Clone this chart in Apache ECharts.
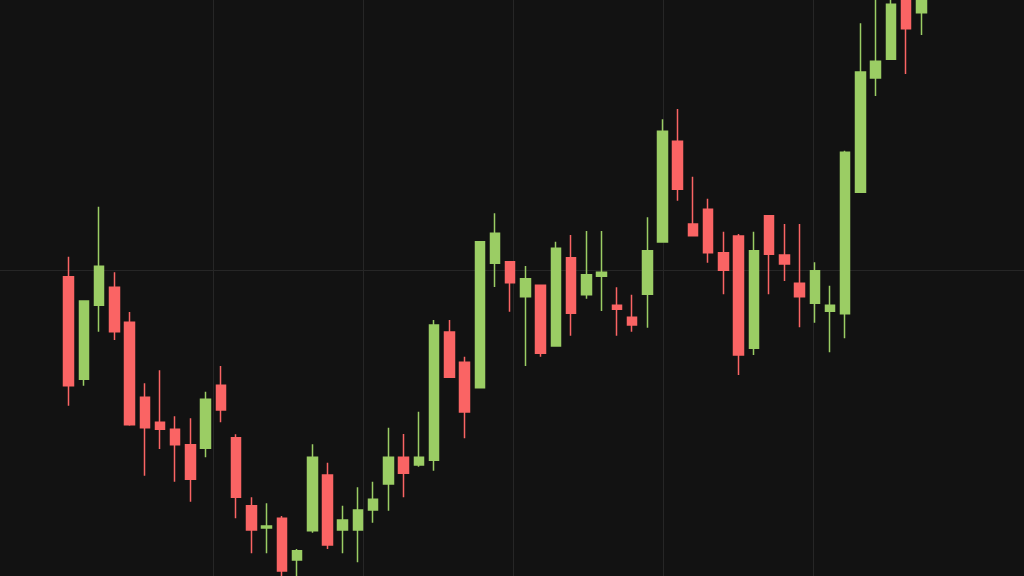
<!DOCTYPE html>
<html>
<head>
<meta charset="utf-8">
<title>Candles</title>
<script src="https://cdn.jsdelivr.net/npm/echarts@6/dist/echarts.min.js"></script>
<style>
  html, body { margin: 0; padding: 0; background: #121212; }
  #chart { width: 1024px; height: 576px; }
</style>
</head>
<body>
<div id="chart"></div>
<script>
// one entry per session
var days = [
  "1", "2", "3", "4", "5", "6", "7", "8", "9", "10",
  "11", "12", "13", "14", "15", "16", "17", "18", "19", "20",
  "21", "22", "23", "24", "25", "26", "27", "28", "29", "30",
  "31", "32", "33", "34", "35", "36", "37", "38", "39", "40",
  "41", "42", "43", "44", "45", "46", "47", "48", "49", "50",
  "51", "52", "53", "54", "55", "56", "57"
];
var opens = [
  39.33, 29.07, 36.47, 38.27, 34.77, 27.27, 24.77, 24.07, 22.53, 22.17,
  28.47, 23.23, 16.43, 14.20, 15.17, 11.00, 13.93, 19.50, 14.00, 14.00,
  16.00, 18.60, 21.27, 20.50, 20.97, 33.80, 30.77, 28.23, 40.67, 40.83,
  37.33, 38.47, 32.40, 41.23, 37.53, 39.37, 36.47, 35.27, 37.57, 42.80,
  52.87, 44.60, 46.07, 41.73, 43.40, 32.17, 45.43, 41.50, 38.67, 36.67,
  35.87, 35.63, 47.77, 59.20, 61.07, 67.50, 65.73
];
var closes = [
  28.43, 36.90, 40.37, 33.83, 24.53, 24.23, 24.07, 22.53, 19.07, 27.07,
  26.00, 17.27, 14.00, 14.40, 9.90, 11.93, 21.27, 12.50, 15.00, 16.00,
  17.07, 21.27, 19.67, 21.27, 34.50, 29.27, 25.80, 42.83, 43.67, 38.73,
  39.13, 31.67, 42.17, 35.67, 39.53, 39.77, 36.07, 34.50, 41.93, 53.87,
  48.07, 43.43, 41.73, 39.97, 31.50, 41.93, 41.57, 40.60, 37.33, 39.93,
  36.47, 51.77, 59.80, 60.87, 66.57, 64.13, 67.80
];
var lows = [
  26.43, 28.43, 33.83, 33.00, 24.43, 19.43, 22.10, 18.83, 16.83, 21.27,
  24.77, 15.17, 11.67, 11.67, 9.20, 9.00, 13.73, 12.10, 11.67, 10.77,
  14.73, 15.93, 17.27, 20.33, 19.93, 29.27, 23.17, 28.23, 38.30, 35.83,
  30.40, 31.33, 32.40, 33.43, 37.13, 35.90, 33.43, 33.83, 34.23, 42.80,
  46.93, 43.43, 40.73, 37.57, 29.50, 31.50, 37.57, 38.90, 34.27, 34.73,
  31.77, 33.17, 47.77, 57.40, 61.07, 59.60, 63.50
];
var highs = [
  41.33, 36.90, 46.33, 39.77, 35.80, 28.67, 29.97, 25.37, 25.17, 27.83,
  30.40, 23.57, 17.27, 16.67, 15.40, 12.10, 22.57, 20.73, 16.43, 18.27,
  18.83, 24.23, 23.60, 25.83, 35.00, 35.00, 31.33, 42.83, 45.67, 40.83,
  40.40, 38.47, 42.83, 43.50, 43.90, 43.90, 38.27, 37.53, 45.27, 55.07,
  56.10, 49.33, 47.13, 43.83, 43.60, 43.83, 45.43, 44.60, 44.60, 40.77,
  38.43, 51.93, 64.67, 68.00, 68.50, 69.00, 69.00
];
// visible price window (bottom, top of the window)
var priceRange = [9.4, 67.0];
// time gridlines behind the candles
var timeTicks = [0, 1, 2, 3, 4];

var upColor = "#9bcd64";
var downColor = "#fa6464";
var gridColor = "#262626";

var candles = days.map(function (d, i) {
  return [opens[i], closes[i], lows[i], highs[i]];
});

var chart = echarts.init(document.getElementById("chart"));

var hidden = {
  axisLine: { show: false },
  axisTick: { show: false },
  axisLabel: { show: false }
};

chart.setOption({
  backgroundColor: "#121212",
  animation: false,
  grid: [
    // candles
    { left: 61, right: 95, top: 0, bottom: 0 },
    // vertical gridlines
    { left: 213, right: 211, top: 0, bottom: 0 },
    // horizontal gridline, its top edge is the line
    { left: 0, right: 0, top: 270, bottom: 0 }
  ],
  xAxis: [
    Object.assign({
      type: "category",
      gridIndex: 0,
      data: days,
      boundaryGap: true,
      splitLine: { show: false }
    }, hidden),
    Object.assign({
      type: "value",
      gridIndex: 1,
      min: timeTicks[0],
      max: timeTicks[timeTicks.length - 1],
      interval: 1,
      splitLine: { show: true, lineStyle: { color: gridColor, width: 1 } }
    }, hidden),
    { type: "value", gridIndex: 2, min: 0, max: 1, show: false }
  ],
  yAxis: [
    Object.assign({
      type: "value",
      gridIndex: 0,
      min: priceRange[0],
      max: priceRange[1],
      splitLine: { show: false }
    }, hidden),
    { type: "value", gridIndex: 1, min: 0, max: 1, show: false },
    Object.assign({
      type: "value",
      gridIndex: 2,
      min: 0,
      max: 1,
      interval: 1,
      splitLine: {
        show: true,
        showMinLine: false,
        showMaxLine: true,
        lineStyle: { color: gridColor, width: 1 }
      }
    }, hidden)
  ],
  series: [
    {
      type: "candlestick",
      xAxisIndex: 0,
      yAxisIndex: 0,
      barWidth: 10,
      data: candles,
      itemStyle: {
        color: upColor,
        color0: downColor,
        borderColor: upColor,
        borderColor0: downColor,
        borderWidth: 1.5
      }
    }
  ]
});
</script>
</body>
</html>
